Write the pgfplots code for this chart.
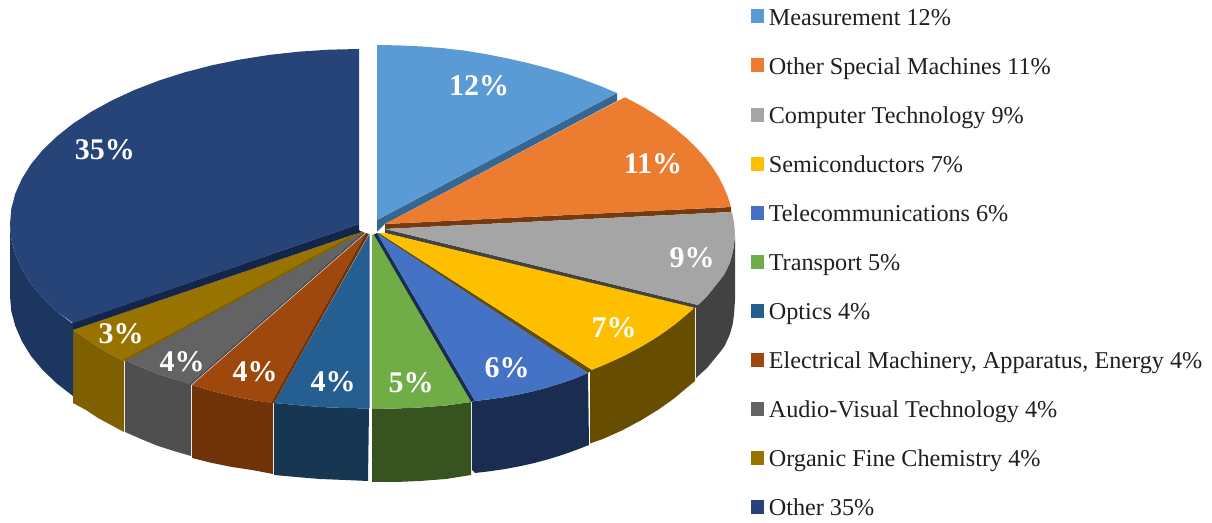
\documentclass[border=0pt]{standalone}
\usepackage{fontspec}
\setmainfont{Liberation Serif}
\usepackage{pgfplots}
\pgfplotsset{compat=1.18}
\definecolor{cA}{HTML}{5B9BD5}\definecolor{cAd}{HTML}{366792}
\definecolor{cB}{HTML}{EB7C30}\definecolor{cBd}{HTML}{743A12}
\definecolor{cC}{HTML}{A5A5A5}\definecolor{cCd}{HTML}{424242}
\definecolor{cD}{HTML}{FDBF00}\definecolor{cDd}{HTML}{664D00}
\definecolor{cE}{HTML}{4472C4}\definecolor{cEd}{HTML}{1A2C4F}
\definecolor{cF}{HTML}{70AD47}\definecolor{cFd}{HTML}{375320}
\definecolor{cG}{HTML}{255E91}\definecolor{cGd}{HTML}{163651}
\definecolor{cH}{HTML}{9E480E}\definecolor{cHd}{HTML}{6F3209}
\definecolor{cI}{HTML}{636363}\definecolor{cId}{HTML}{4F4F4F}
\definecolor{cJ}{HTML}{997300}\definecolor{cJd}{HTML}{7F6000}
\definecolor{cK}{HTML}{264478}\definecolor{cKd}{HTML}{1D3660}\definecolor{cKs}{HTML}{13264A}
\newcommand{\lab}[3]{\node[text=white,font=\bfseries\fontsize{15}{17}\selectfont] at (axis cs:#1,#2) {#3};}
\begin{document}
\begin{tikzpicture}
\begin{axis}[
  hide axis, scale only axis, width=606pt, height=261.5pt,
  xmin=0, xmax=1212, ymin=0, ymax=523, y dir=reverse, no marks,
  legend cell align=left,
  legend image code/.code={\fill[#1] (0pt,-2.2pt) rectangle (6.6pt,4.8pt); \path (8.9pt,0pt);},
  legend style={at={(axis cs:751,7)}, anchor=north west, draw=none, fill=none, inner sep=0pt, outer sep=0pt,
    row sep=12.55pt, font=\fontsize{12.1}{14}\selectfont, text=black!88,
    nodes={inner sep=0pt, outer sep=0pt, text height=9pt, text depth=3pt}},
]
\addplot[draw=none, forget plot] coordinates {(0,0) (1212,523)};
% Measurement
\addplot[fill=cAd, draw=none, forget plot] coordinates {(377,220) (617,93) (617,101) (385,224) (377,232)};
\addplot[fill=cA, draw=none] coordinates {(377,220) (377,45) (398.9,45.4) (420.7,46.4) (442.4,48.1) (463.8,50.5) (484.8,53.9) (505.5,58) (525.6,62.5) (545.1,67.5) (564,73) (582.1,79.2) (599.5,85.7) (617,93)};
\addlegendentry{Measurement 12\%}
% Other Special Machines
\addplot[fill=cBd, draw=none, forget plot] coordinates {(385,224) (731,207) (731,212) (385,229)};
\addplot[fill=cB, draw=none] coordinates {(385,224) (625,97.3) (639,104.7) (652.2,112.5) (664.6,120.7) (676,129.3) (686.5,138.2) (696,147.4) (704.6,156.9) (712,166.6) (718.4,176.5) (723.6,186.6) (727.8,196.8) (731,207)};
\addlegendentry{Other Special Machines 11\%}
% Computer Technology
\addplot[fill=cCd, draw=none, forget plot] coordinates {(385,229) (698,305) (694,309) (385,233)};
\addplot[fill=cCd, draw=none, forget plot] coordinates {(735,236) (733.6,248) (730,262.3) (724.6,273.8) (716,285) (707,296) (696,306) (696,378) (702,372.5) (707,368) (711.5,362.5) (716,357) (720.5,351.5) (724.6,346) (730,334) (732.5,325) (734,315) (735,300)};
\addplot[fill=cC, draw=none] coordinates {(385,229) (732,212) (734,222.4) (735,233) (733.6,247.7) (732.2,255) (730,262.3) (727.5,268) (724.6,273.8) (720.5,279.5) (716,285) (711.6,290.8) (707,296.3) (702.7,300.8) (698,305)};
\addlegendentry{Computer Technology 9\%}
% Semiconductors
\addplot[fill=cDd, draw=none, forget plot] coordinates {(379,233) (592,370) (588,373) (376,235)};
\addplot[fill=cDd, draw=none, forget plot] coordinates {(590,370.5) (602.8,365.4) (622.9,356.3) (641.5,346.5) (658.6,336) (674,325) (687.7,313.6) (695,307.6) (695,381) (687.7,387) (674,398.5) (658.6,409.5) (641.5,420) (622.9,430) (602.8,439) (590,443.5)};
\addplot[fill=cD, draw=none] coordinates {(385,233) (694,307.6) (687.7,313.6) (681,319.4) (674,325) (666.5,330.6) (658.6,336) (650.3,341.3) (641.5,346.5) (632.4,351.4) (622.9,356.3) (613,360.9) (602.8,365.4) (592,369.7) (379,233)};
\addlegendentry{Semiconductors 7\%}
% Telecommunications
\addplot[fill=cEd, draw=none, forget plot] coordinates {(377,233) (475,401) (471,402) (373,235)};
\addplot[fill=cEd, draw=none, forget plot] coordinates {(472,402) (475,401) (490.2,399.2) (505.3,397) (520,394.2) (534.4,391) (548.4,387.2) (562,383) (575.3,378.3) (588,373) (589,445) (575.3,450.3) (562,455) (548.4,459.2) (534.4,463) (520,466.2) (505.3,469) (490.2,471.2) (475,473) (472,470)};
\addplot[fill=cE, draw=none] coordinates {(377,233) (588,373) (575.3,378.3) (562,383) (548.4,387.2) (534.4,391) (520,394.2) (505.3,397) (490.2,399.2) (475,401)};
\addlegendentry{Telecommunications 6\%}
% Transport
\addplot[fill=cFd, draw=none, forget plot] coordinates {(372,409) (396,408.5) (420,407.5) (446,405.5) (471,402) (471,475) (446,479) (420,481) (396,482) (372,482)};
\addplot[fill=cF, draw=none] coordinates {(372,235) (374,235) (471,402) (446,405.5) (420,407.5) (396,408.5) (372,409)};
\addlegendentry{Transport 5\%}
% Optics
\addplot[fill=cGd, draw=none, forget plot] coordinates {(274,403) (296,405) (320,407) (345,408) (369,408.5) (368,481) (345,480) (320,479) (296,477) (274,475)};
\addplot[fill=cG, draw=none] coordinates {(369.5,234) (369.5,408.5) (345,408) (320,407) (296,405) (274,403)};
\addlegendentry{Optics 4\%}
% Electrical Machinery
\addplot[fill=cHd, draw=none, forget plot] coordinates {(192,385) (212,391) (232,396) (252,400) (273,403) (273,474) (252,470) (232,467) (212,463) (192,458)};
\addplot[fill=cH, draw=none] coordinates {(366,233) (192,385) (212,391) (232,396) (252,400) (271,403)};
\addlegendentry{Electrical Machinery, Apparatus, Energy 4\%}
\addplot[fill=cHd, draw=none, forget plot] coordinates {(369,234) (274,403) (271,403) (366,233)};
% Audio-Visual Technology
\addplot[fill=cId, draw=none, forget plot] coordinates {(125,360) (141,367) (158,374) (174,379) (191,384) (191,456) (174,451) (158,446) (141,439) (125,432)};
\addplot[fill=cI, draw=none] coordinates {(363,232) (125,360) (141,367) (158,374) (174,379) (189,384)};
\addlegendentry{Audio-Visual Technology 4\%}
\addplot[fill=cId, draw=none, forget plot] coordinates {(365,233) (191,385) (189,384) (363,232)};
% Organic Fine Chemistry
\addplot[fill=cJd, draw=none, forget plot] coordinates {(73,330) (86,338.5) (98,347) (111,354.5) (124,361) (124,432) (111,425) (98,418) (86,410) (73,403)};
\addplot[fill=cJ, draw=none] coordinates {(361,232) (73,330) (86,338.5) (98,347) (111,354.5) (124,361)};
\addlegendentry{Organic Fine Chemistry 4\%}
\addplot[fill=cJd, draw=none, forget plot] coordinates {(363,232) (125,361) (123,360) (361,231)};
% Other
\addplot[fill=cKs, draw=none, forget plot] coordinates {(359,224) (72,323) (73,330) (361,232) (359,230)};
\addplot[fill=cKd, draw=none, forget plot] coordinates {(10,224) (11.3,239.3) (15.3,254.4) (21.9,269.3) (31,283.9) (42.7,298) (56.8,311.5) (73,324) (73,396) (56.8,383.5) (42.7,370) (31,356) (21.9,341.3) (15.3,326) (11.3,311.3) (10,296)};
\addplot[fill=cK, draw=none] coordinates {(359,224) (359,49) (328.6,49.7) (298.4,51.7) (268.7,55) (239.6,59.6) (211.5,65.4) (184.5,72.4) (158.8,80.6) (134.7,89.9) (112.2,100.3) (91.7,111.5) (73.1,123.6) (56.8,136.5) (42.7,150) (31,164.2) (21.9,178.7) (15.3,193.6) (11.3,208.7) (10,224) (11.3,239.3) (15.3,254.4) (21.9,269.3) (31,283.9) (42.7,298) (56.8,311.5) (73,323)};
\addlegendentry{Other 35\%}
\lab{479}{86}{12\%}
\lab{653}{164}{11\%}
\lab{692}{258}{9\%}
\lab{614}{328}{7\%}
\lab{507}{368}{6\%}
\lab{411}{383}{5\%}
\lab{333}{382}{4\%}
\lab{255}{372}{4\%}
\lab{182}{362}{4\%}
\lab{121}{334}{3\%}
\lab{105}{150}{35\%}
\end{axis}
\end{tikzpicture}
\end{document}
